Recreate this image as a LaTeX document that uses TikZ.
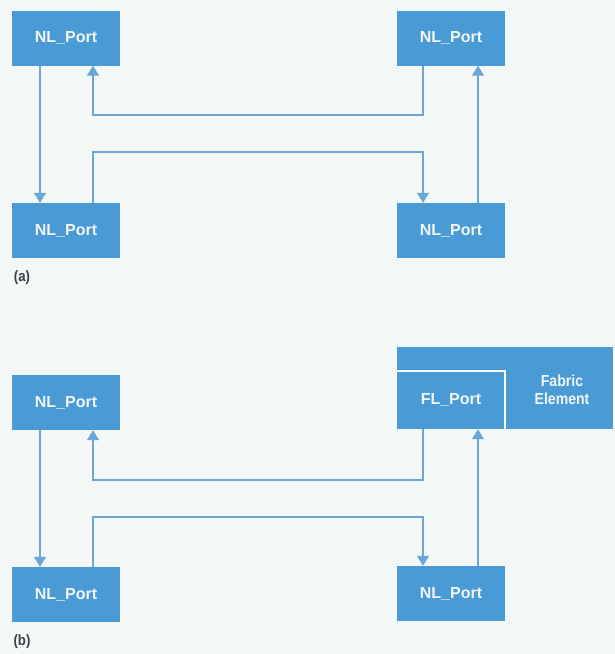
\documentclass[tikz,border=0pt]{standalone}
\usepackage{fontspec}
\setmainfont{Liberation Sans}
\newfontfamily\condfont[FakeStretch=0.88]{Liberation Sans}
\usetikzlibrary{arrows.meta}
\definecolor{boxblue}{HTML}{4A9AD6}
\definecolor{linblue}{HTML}{6AA6D8}
\definecolor{bgc}{HTML}{F3F8F6}
\definecolor{txt}{HTML}{F2F6FA}
\definecolor{lbl}{HTML}{3C4048}
\begin{document}
\begin{tikzpicture}[x=1pt,y=-1pt,
  portbox/.style={rectangle, fill=boxblue, draw=none, minimum width=108pt, minimum height=55pt, inner sep=0pt,
    text=txt, font=\fontsize{16}{18}\selectfont\bfseries},
  conn/.style={draw=linblue, line width=1.3pt, -{Triangle[width=12pt,length=10pt]}},
  sublabel/.style={text=lbl, font=\condfont\fontsize{15}{17}\selectfont\bfseries, inner sep=0pt}]
\fill[bgc] (0,0) rectangle (615,654);
\useasboundingbox (0,0) rectangle (615,654);
% ---- (a)
\node[portbox] (TLa) at (66,38) {NL\_Port};
\node[portbox] (TRa) at (451,38) {NL\_Port};
\node[portbox] (BLa) at (66,230.5) {NL\_Port};
\node[portbox] (BRa) at (451,230.5) {NL\_Port};
\node[sublabel] (la) at (22,278) {(a)};
\coordinate (ua) at (0,115);
\coordinate (da) at (0,152);
\draw[conn] ([xshift=-26pt]TLa.south) -- ([xshift=-26pt]BLa.north);
\draw[conn] ([xshift=27pt]BLa.north) -- ([xshift=27pt]BLa.north |- da) -| ([xshift=-28pt]BRa.north);
\draw[conn] ([xshift=27pt]BRa.north) -- ([xshift=27pt]TRa.south);
\draw[conn] ([xshift=-28pt]TRa.south) -- ([xshift=-28pt]TRa.south |- ua) -| ([xshift=27pt]TLa.south);
% ---- (b)
\node[portbox, minimum width=216pt, minimum height=82pt] (FE) at (505,388) {};
\node[portbox, minimum height=58pt] (FL) at (451,400) {FL\_Port};
\draw[white, line width=1.5pt] (FL.north west) -- (FL.north east) -- (FL.south east);
\node[text=txt, font=\condfont\fontsize{16}{18}\selectfont\bfseries, align=center, inner sep=0pt] (FEt) at (562,390) {Fabric\\Element};
\node[portbox] (NLb) at (66,402.5) {NL\_Port};
\node[portbox] (BLb) at (66,594.5) {NL\_Port};
\node[portbox] (BRb) at (451,593.5) {NL\_Port};
\node[sublabel] (lb) at (22,642) {(b)};
\coordinate (ub) at (0,480);
\coordinate (db) at (0,517);
\draw[conn] ([xshift=-26pt]NLb.south) -- ([xshift=-26pt]BLb.north);
\draw[conn] ([xshift=27pt]BLb.north) -- ([xshift=27pt]BLb.north |- db) -| ([xshift=-28pt]BRb.north);
\draw[conn] ([xshift=27pt]BRb.north) -- ([xshift=27pt]FL.south);
\draw[conn] ([xshift=-28pt]FL.south) -- ([xshift=-28pt]FL.south |- ub) -| ([xshift=27pt]NLb.south);
\end{tikzpicture}
\end{document}
